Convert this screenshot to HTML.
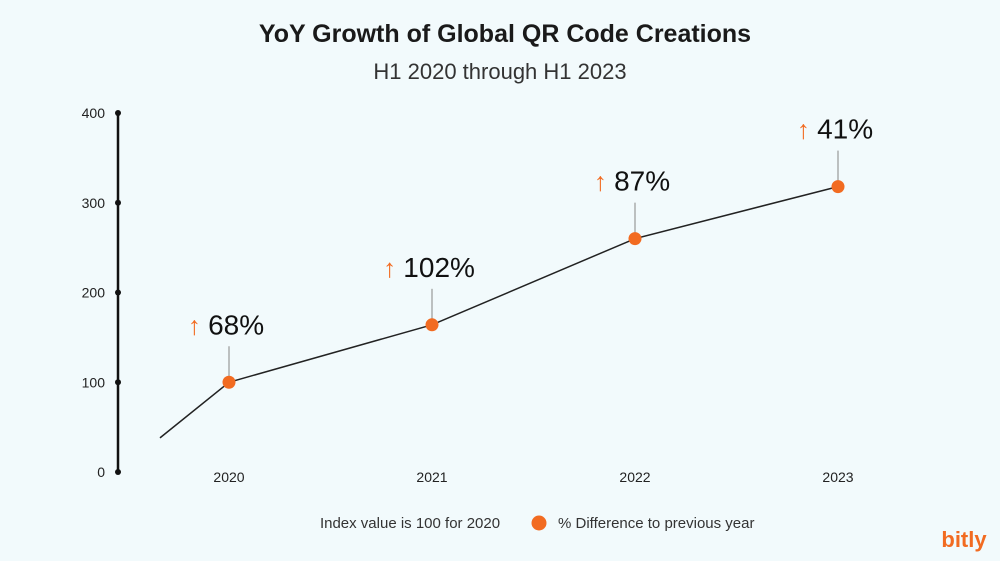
<!DOCTYPE html>
<html><head><meta charset="utf-8"><style>
body{margin:0;background:#f2fafc;font-family:"Liberation Sans",sans-serif}
svg{display:block}
</style></head><body>
<svg width="1000" height="561" viewBox="0 0 1000 561">
<rect width="1000" height="561" fill="#f2fafc"/>
<text x="505" y="42" text-anchor="middle" font-size="25" font-weight="bold" fill="#1a1a1a">YoY Growth of Global QR Code Creations</text>
<text x="500" y="79" text-anchor="middle" font-size="22" fill="#333">H1 2020 through H1 2023</text>
<g id="plot"></g>
<text x="410" y="528" text-anchor="middle" font-size="15" fill="#333">Index value is 100 for 2020</text>
<circle cx="539" cy="523" r="7.5" fill="#f26b21"/>
<text x="558" y="528" font-size="15" fill="#333">% Difference to previous year</text>
<text x="964" y="547" text-anchor="middle" font-size="22" font-weight="bold" fill="#f26b21">bitly</text>
</svg>
<script>
const categories=["2020","2021","2022","2023"];
const values=[100,164,260,318];
const pctLabels=["68%","102%","87%","41%"];
const yTicks=[0,100,200,300,400];
const leadIn=[-0.34,38];
const NS="http://www.w3.org/2000/svg";
const g=document.getElementById('plot');
function y(v){return 472-v*0.8975;}
function x(i){return 229+i*203;}
function mk(t,a){const e=document.createElementNS(NS,t);for(const k in a)e.setAttribute(k,a[k]);g.appendChild(e);return e;}
let ax=mk('line',{x1:118,x2:118,y1:y(400),y2:y(0),stroke:'#111','stroke-width':2.5});


yTicks.forEach(t=>{
 let c=mk('circle',{cx:118,cy:y(t),r:3,fill:'#111'});
 
 
 let l=mk('text',{x:105,y:y(t)+5,'text-anchor':'end','font-size':14,fill:'#222'});l.textContent=t;
 
 
});
let pts=[[x(leadIn[0]),y(leadIn[1])]].concat(values.map((v,i)=>[x(i),y(v)]));
let pl=mk('polyline',{points:pts.map(p=>p.join(',')).join(' '),fill:'none',stroke:'#222','stroke-width':1.5});


categories.forEach((c,i)=>{
 let px=x(i),py=y(values[i]);
 let cn=mk('line',{x1:px,x2:px,y1:py-36,y2:py,stroke:'#999','stroke-width':1.2});
 
 
 let d=mk('circle',{cx:px,cy:py,r:6.5,fill:'#f26b21'});
 
 
 let t=mk('text',{x:px-3,y:py-48,'text-anchor':'middle','font-size':28,fill:'#111'});
 t.innerHTML='<tspan fill="#f26b21" font-size="26" font-weight="300">↑ </tspan>'+pctLabels[i];
 
 
 let xl=mk('text',{x:px,y:482,'text-anchor':'middle','font-size':14,fill:'#222'});xl.textContent=c;
 
 
});
</script>
</body></html>
